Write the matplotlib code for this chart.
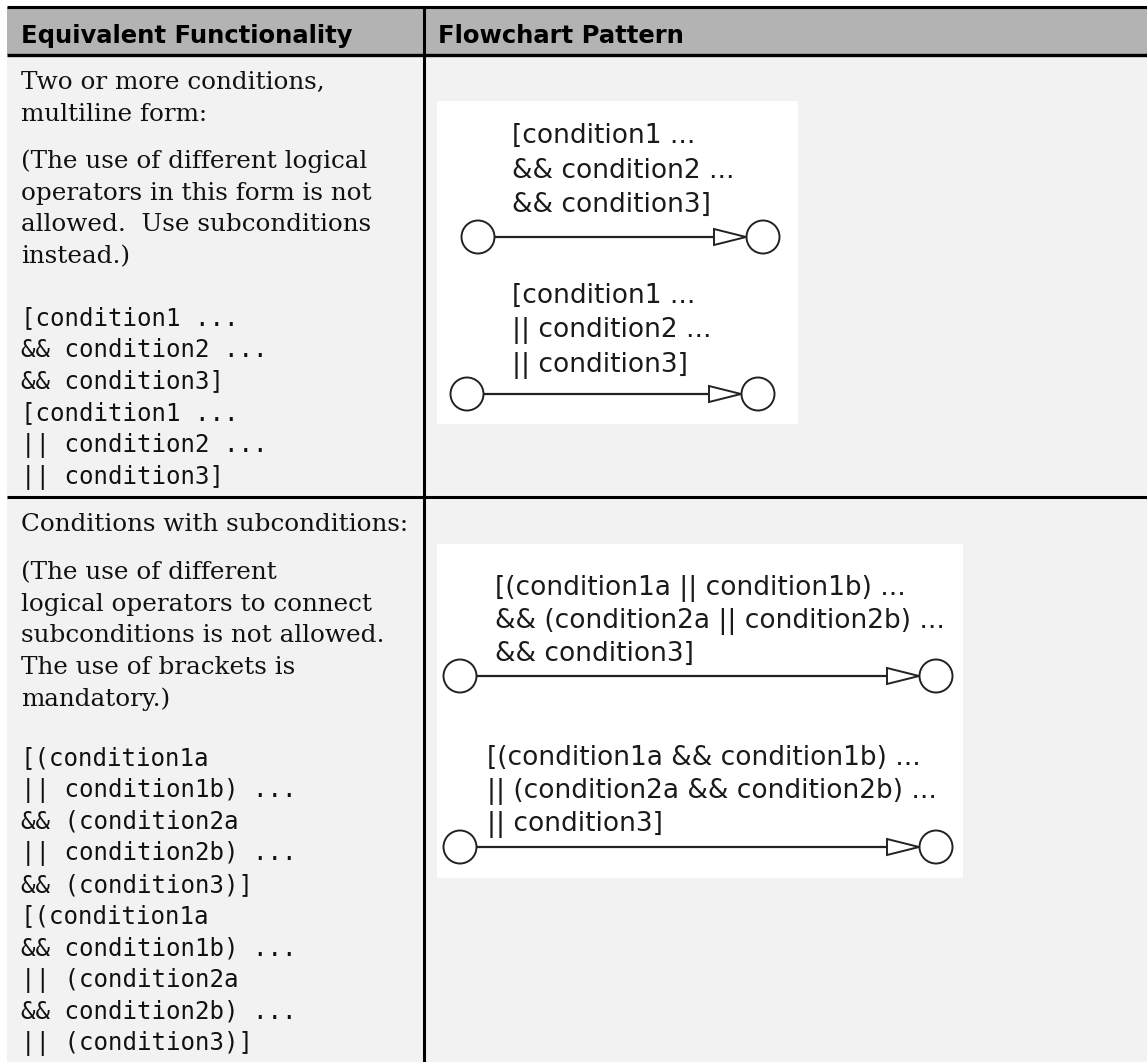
import matplotlib
matplotlib.use("Agg")
import matplotlib.pyplot as plt
from matplotlib.patches import Rectangle, Circle, Polygon

# ---------------- content ----------------
headers = ["Equivalent Functionality", "Flowchart Pattern"]

row1_intro = ["Two or more conditions,", "multiline form:"]
row1_note = ["(The use of different logical",
             "operators in this form is not",
             "allowed.  Use subconditions",
             "instead.)"]
row1_code = ["[condition1 ...",
             "&& condition2 ...",
             "&& condition3]",
             "[condition1 ...",
             "|| condition2 ...",
             "|| condition3]"]

row2_intro = ["Conditions with subconditions:"]
row2_note = ["(The use of different",
             "logical operators to connect",
             "subconditions is not allowed.",
             "The use of brackets is",
             "mandatory.)"]
row2_code = ["[(condition1a",
             "|| condition1b) ...",
             "&& (condition2a",
             "|| condition2b) ...",
             "&& (condition3)]",
             "[(condition1a",
             "&& condition1b) ...",
             "|| (condition2a",
             "&& condition2b) ...",
             "|| (condition3)]"]

diag1_a = ["[condition1 ...", "&& condition2 ...", "&& condition3]"]
diag1_b = ["[condition1 ...", "|| condition2 ...", "|| condition3]"]
diag2_a = ["[(condition1a || condition1b) ...",
           "&& (condition2a || condition2b) ...",
           "&& condition3]"]
diag2_b = ["[(condition1a && condition1b) ...",
           "|| (condition2a && condition2b) ...",
           "|| condition3]"]

# ---------------- figure ----------------
W, H = 1147, 1062
fig = plt.figure(figsize=(W / 100, H / 100), dpi=100)
ax = fig.add_axes([0, 0, 1, 1])
ax.set_xlim(0, W)
ax.set_ylim(H, 0)
ax.axis("off")

HEAD_BG = "#b3b3b3"
BODY_BG = "#f2f2f2"
LEFT = 7
COLX = 424
TOP = 7
HEAD_B = 55
ROW_B = 497

# backgrounds
ax.add_patch(Rectangle((LEFT, TOP), W - LEFT, HEAD_B - TOP, facecolor=HEAD_BG, edgecolor="none"))
ax.add_patch(Rectangle((LEFT, HEAD_B), W - LEFT, H - HEAD_B, facecolor=BODY_BG, edgecolor="none"))

# grid lines
ax.plot([LEFT, W], [TOP, TOP], color="black", lw=2.2, solid_capstyle="butt")
ax.plot([LEFT, W], [HEAD_B, HEAD_B], color="black", lw=2.4, solid_capstyle="butt")
ax.plot([LEFT, W], [ROW_B, ROW_B], color="black", lw=2.2, solid_capstyle="butt")
ax.plot([COLX, COLX], [TOP, H], color="black", lw=2.2, solid_capstyle="butt")

# headers
head_font = dict(family=["DejaVu Sans"], fontweight="bold", fontsize=17.5, color="black")
ax.text(21, 43, headers[0], va="baseline", ha="left", **head_font)
ax.text(438, 43, headers[1], va="baseline", ha="left", **head_font)

serif = dict(family=["DejaVu Serif"], fontsize=17.7, color="#111111")
mono = dict(family=["DejaVu Sans Mono"], fontsize=17.4, color="#111111")
LH = 31.7
TX = 21


def lines(items, x, y0, style, step=LH):
    for i, s in enumerate(items):
        ax.text(x, y0 + i * step, s, va="baseline", ha="left", **style)


lines(row1_intro, TX, 89, serif)
lines(row1_note, TX, 168, serif)
lines(row1_code, TX, 325, mono)

lines(row2_intro, TX, 531, serif)
lines(row2_note, TX, 579, serif)
lines(row2_code, TX, 765, mono)

# ---------------- flowchart diagrams ----------------
diag_font = dict(family=["DejaVu Sans"], fontsize=19, color="#1a1a1a")
EDGE = "#222222"


def transition(xl, xr, y, tip_x, r=16.5):
    ax.add_patch(Circle((xl, y), r, facecolor="white", edgecolor=EDGE, lw=1.4, zorder=3))
    ax.add_patch(Circle((xr, y), r, facecolor="white", edgecolor=EDGE, lw=1.4, zorder=3))
    base = tip_x - 32
    ax.plot([xl + r, base], [y, y], color=EDGE, lw=1.6, zorder=2)
    ax.add_patch(Polygon([(base, y - 8), (base, y + 8), (tip_x, y)], closed=True,
                         facecolor="white", edgecolor=EDGE, lw=1.4, zorder=3))


# box 1
ax.add_patch(Rectangle((437, 101), 361, 323, facecolor="white", edgecolor="none", zorder=1))
lines(diag1_a, 512, 143, diag_font, step=34.5)
transition(478, 763, 237, 746)
lines(diag1_b, 512, 303, diag_font, step=34.5)
transition(467, 758, 394, 741)

# box 2
ax.add_patch(Rectangle((437, 544), 526, 334, facecolor="white", edgecolor="none", zorder=1))
lines(diag2_a, 495, 595, diag_font, step=33)
transition(460, 936, 676, 919)
lines(diag2_b, 487, 765, diag_font, step=33)
transition(460, 936, 847, 919)

fig.savefig("out.png", dpi=100, facecolor="white")
